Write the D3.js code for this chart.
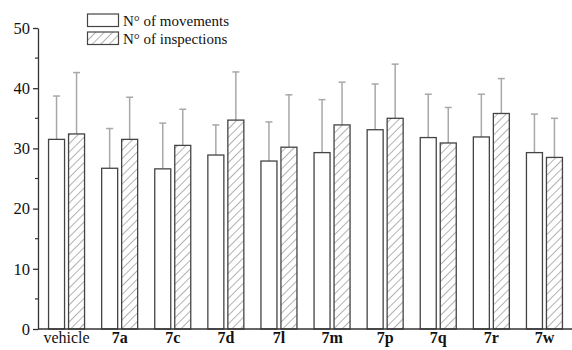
<!DOCTYPE html>
<html>
<head>
<meta charset="utf-8">
<script src="https://cdn.jsdelivr.net/npm/d3@7"></script>
<style>
  html, body { margin: 0; padding: 0; background: #fff; }
  svg { display: block; }
  svg text { font-family: "Liberation Serif", "Times New Roman", serif; }
</style>
</head>
<body>
<svg id="chart" width="572" height="350"></svg>
<script>
// Groups and their mean counts with the upper standard deviation bound
const categories = ["vehicle", "7a", "7c", "7d", "7l", "7m", "7p", "7q", "7r", "7w"];
const movements = [31.5, 26.7, 26.6, 28.9, 27.9, 29.3, 33.1, 31.8, 31.9, 29.3];
const movementsErr = [38.7, 33.3, 34.2, 33.9, 34.4, 38.1, 40.7, 39.0, 39.0, 35.7];
const inspections = [32.4, 31.5, 30.5, 34.7, 30.2, 33.9, 35.0, 30.9, 35.8, 28.5];
const inspectionsErr = [42.6, 38.5, 36.5, 42.7, 38.9, 41.0, 44.0, 36.8, 41.6, 35.0];
const seriesNames = ["N\u00B0 of movements", "N\u00B0 of inspections"];
const yTicks = [0, 10, 20, 30, 40, 50];
const yMinorTicks = [5, 15, 25, 35, 45];

const svg = d3.select("#chart");

const x0 = 38, x1 = 572, yTop = 28, yBottom = 329;

const y = d3.scaleLinear().domain([0, 50]).range([yBottom, yTop]);
const x = d3.scaleBand().domain(categories).range([40, 571]).paddingInner(0).paddingOuter(0);
const barW = 16, gap = 4;
const inner = d3.scaleOrdinal().domain([0, 1]).range([-(barW + gap / 2), gap / 2]);

// Diagonal hatch for the second series
const defs = svg.append("defs");
const pat = defs.append("pattern")
  .attr("id", "hatch")
  .attr("patternUnits", "userSpaceOnUse")
  .attr("width", 6).attr("height", 6)
  .attr("patternTransform", "rotate(45)");
pat.append("rect").attr("width", 6).attr("height", 6).attr("fill", "#fff");
pat.append("line").attr("x1", 0).attr("y1", 0).attr("x2", 0).attr("y2", 6)
  .attr("stroke", "#666").attr("stroke-width", 1);

const series = [
  { values: movements, err: movementsErr, fill: "#fff" },
  { values: inspections, err: inspectionsErr, fill: "url(#hatch)" }
];

// Error bars (upper half only) drawn behind the bars
series.forEach((s, si) => {
  const g = svg.append("g");
  categories.forEach((c, i) => {
    const cx = x(c) + x.bandwidth() / 2 + inner(si) + barW / 2;
    g.append("line")
      .attr("x1", cx).attr("x2", cx)
      .attr("y1", y(s.values[i])).attr("y2", y(s.err[i]))
      .attr("stroke", "#a8a8a8").attr("stroke-width", 1.5);
    g.append("line")
      .attr("x1", cx - 3.5).attr("x2", cx + 3.5)
      .attr("y1", y(s.err[i])).attr("y2", y(s.err[i]))
      .attr("stroke", "#a8a8a8").attr("stroke-width", 1.5);
  });
});

// Bars
series.forEach((s, si) => {
  svg.append("g").selectAll("rect")
    .data(categories)
    .join("rect")
    .attr("x", (c) => x(c) + x.bandwidth() / 2 + inner(si))
    .attr("y", (c, i) => y(s.values[i]))
    .attr("width", barW)
    .attr("height", (c, i) => yBottom - y(s.values[i]))
    .attr("fill", s.fill)
    .attr("stroke", "#444")
    .attr("stroke-width", 1.3);
});

// Y axis
const yAxis = svg.append("g")
  .attr("transform", `translate(${x0},0)`)
  .call(d3.axisLeft(y).tickValues(yTicks).tickSize(5).tickPadding(3).tickSizeOuter(0));
yAxis.attr("font-family", null);
yAxis.select(".domain").attr("stroke", "#333").attr("stroke-width", 1.3);
yAxis.selectAll(".tick line").attr("stroke", "#333").attr("stroke-width", 1.3);
yAxis.selectAll(".tick text")
  .attr("font-size", 16.5).attr("fill", "#111");
svg.append("g").selectAll("line")
  .data(yMinorTicks)
  .join("line")
  .attr("x1", x0 - 3).attr("x2", x0)
  .attr("y1", (d) => y(d)).attr("y2", (d) => y(d))
  .attr("stroke", "#333").attr("stroke-width", 1.2);

// X axis
const xAxis = svg.append("g")
  .attr("transform", `translate(0,${yBottom})`)
  .call(d3.axisBottom(x).tickSize(0).tickPadding(3));
xAxis.attr("font-family", null);
xAxis.select(".domain").remove();
svg.append("line")
  .attr("x1", x0).attr("x2", x1)
  .attr("y1", yBottom).attr("y2", yBottom)
  .attr("stroke", "#333").attr("stroke-width", 1.3);
xAxis.selectAll(".tick text")
  .attr("font-size", 16).attr("fill", "#111")
  .attr("font-weight", (d) => d === "vehicle" ? "normal" : "bold")
  .attr("dy", "0.71em");

// Legend
const legend = svg.append("g");
seriesNames.forEach((name, i) => {
  const ly = 14 + i * 18;
  legend.append("rect")
    .attr("x", 87.5).attr("y", ly)
    .attr("width", 31).attr("height", 12.5)
    .attr("fill", series[i].fill)
    .attr("stroke", "#444").attr("stroke-width", 1.2);
  legend.append("text")
    .attr("x", 123).attr("y", ly + 12)
    .attr("font-size", 15).attr("fill", "#111")
    .text(name);
});
</script>
</body>
</html>
